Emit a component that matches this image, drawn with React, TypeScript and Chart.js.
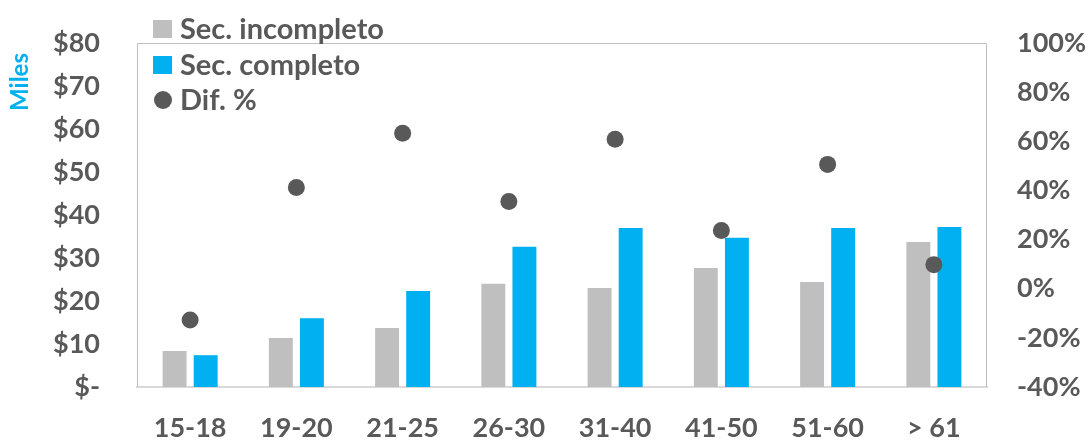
import React, { useEffect, useRef } from "react";
import { Chart, registerables } from "chart.js";

Chart.register(...registerables);

const categories = ["15-18", "19-20", "21-25", "26-30", "31-40", "41-50", "51-60", "> 61"];
const secIncompleto = [8.4, 11.4, 13.7, 24.0, 23.0, 27.7, 24.4, 33.7];
const secCompleto = [7.4, 16.0, 22.3, 32.6, 37.0, 34.7, 37.0, 37.2];
const difPct = [-12.7, 41.2, 63.3, 35.5, 60.8, 23.7, 50.6, 9.8];
const seriesLabels = ["Sec. incompleto", "Sec. completo", "Dif. %"];
const axisTitle = "Miles";

const GRAY = "#bfbfbf";
const BLUE = "#00b0f0";
const DOT = "#595959";
const TEXT = "#595959";
const FONT = "Lato, 'Liberation Sans', sans-serif";

const framePlugin = {
  id: "frame",
  beforeDatasetsDraw(chart: any) {
    const { ctx, chartArea: a } = chart;
    ctx.save();
    ctx.strokeStyle = "#bfbfbf";
    ctx.lineWidth = 1;
    ctx.beginPath();
    ctx.moveTo(a.left + 0.5, a.bottom);
    ctx.lineTo(a.left + 0.5, a.top + 0.5);
    ctx.lineTo(a.right - 0.5, a.top + 0.5);
    ctx.lineTo(a.right - 0.5, a.bottom);
    ctx.stroke();
    ctx.restore();
  },
  afterDraw(chart: any) {
    const { ctx } = chart;
    ctx.save();
    ctx.translate(20, 82);
    ctx.rotate(-Math.PI / 2);
    ctx.fillStyle = BLUE;
    ctx.font = `bold 24px ${FONT}`;
    ctx.textAlign = "center";
    ctx.textBaseline = "middle";
    ctx.fillText(axisTitle, 0, 0);
    ctx.restore();

    const rows = [29, 65, 100];
    ctx.save();
    ctx.font = `bold 29px ${FONT}`;
    ctx.textBaseline = "middle";
    ctx.textAlign = "left";
    chart.data.datasets.forEach((ds: any, i: number) => {
      const y = rows[i];
      ctx.fillStyle = ds.backgroundColor;
      if (i < 2) {
        ctx.fillRect(153, y - 9, 19, 18);
      } else {
        ctx.beginPath();
        ctx.arc(163, y, 9, 0, Math.PI * 2);
        ctx.fill();
      }
      ctx.fillStyle = TEXT;
      ctx.fillText(ds.label, 180, y + 1);
    });
    ctx.restore();
  },
};

export default function App() {
  const ref = useRef<HTMLCanvasElement>(null);

  useEffect(() => {
    document.body.style.margin = "0";
    const tickFont = { family: FONT, size: 27, weight: "bold" as const };
    const chart = new Chart(ref.current as HTMLCanvasElement, {
      type: "bar",
      data: {
        labels: categories,
        datasets: [
          {
            type: "bar",
            label: seriesLabels[0],
            data: secIncompleto,
            backgroundColor: GRAY,
            yAxisID: "y",
            order: 1,
            categoryPercentage: 0.585,
            barPercentage: 0.77,
          },
          {
            type: "bar",
            label: seriesLabels[1],
            data: secCompleto,
            backgroundColor: BLUE,
            yAxisID: "y",
            order: 1,
            categoryPercentage: 0.585,
            barPercentage: 0.77,
          },
          {
            type: "line",
            label: seriesLabels[2],
            data: difPct,
            backgroundColor: DOT,
            borderColor: DOT,
            showLine: false,
            pointRadius: 8.5,
            pointHoverRadius: 8.5,
            pointBorderWidth: 0,
            yAxisID: "y1",
            order: 0,
          } as any,
        ],
      },
      options: {
        animation: false,
        responsive: true,
        maintainAspectRatio: false,
        layout: { padding: { top: 43, left: 0, right: 0, bottom: 0 } },
        plugins: {
          legend: { display: false },
          tooltip: { enabled: false },
        },
        scales: {
          x: {
            grid: { display: false, drawTicks: false },
            border: { display: true, color: "#d9d9d9", width: 2 },
            ticks: {
              color: TEXT,
              font: tickFont,
              padding: 25,
              maxRotation: 0,
            },
            afterFit(scale: any) {
              scale.height = 53;
            },
          },
          y: {
            position: "left",
            min: 0,
            max: 80,
            grid: { display: false, drawTicks: false },
            border: { display: false },
            ticks: {
              stepSize: 10,
              color: TEXT,
              font: tickFont,
              padding: 37,
              callback: (v: any) => (Number(v) === 0 ? "$-" : "$" + v),
            },
            afterFit(scale: any) {
              scale.width = 137;
              scale.paddingTop = 0;
              scale.paddingBottom = 0;
            },
          },
          y1: {
            position: "right",
            min: -40,
            max: 100,
            grid: { display: false, drawTicks: false },
            border: { display: false },
            ticks: {
              stepSize: 20,
              color: TEXT,
              font: tickFont,
              padding: 30,
              callback: (v: any) => v + "%",
            },
            afterFit(scale: any) {
              scale.width = 104;
              scale.paddingTop = 0;
              scale.paddingBottom = 0;
            },
          },
        },
      },
      plugins: [framePlugin],
    });
    return () => chart.destroy();
  }, []);

  return (
    <div style={{ position: "fixed", left: 0, top: 0, width: 1091, height: 440, background: "#fff" }}>
      <canvas ref={ref} />
    </div>
  );
}
